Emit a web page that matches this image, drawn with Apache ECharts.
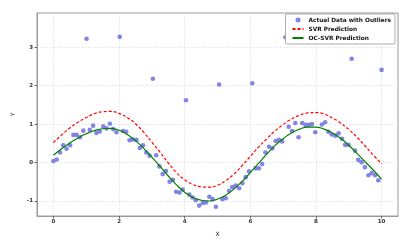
<!DOCTYPE html>
<html>
<head>
<meta charset="utf-8">
<script src="https://cdn.jsdelivr.net/npm/echarts@6/dist/echarts.min.js"></script>
<style>html,body{margin:0;padding:0;background:#fff}#c{width:414px;height:242px}</style>
</head>
<body>
<div id="c"></div>
<script>
var scatterX = [0,0.10,0.20,0.30,0.40,0.51,0.61,0.71,0.81,0.91,1.01,1.11,1.21,1.31,1.41,1.52,1.62,1.72,1.82,1.92,2.02,2.12,2.22,2.32,2.42,2.53,2.63,2.73,2.83,2.93,3.03,3.13,3.23,3.33,3.43,3.54,3.64,3.74,3.84,3.94,4.04,4.14,4.24,4.34,4.44,4.55,4.65,4.75,4.85,4.95,5.05,5.15,5.25,5.35,5.45,5.56,5.66,5.76,5.86,5.96,6.06,6.16,6.26,6.36,6.46,6.57,6.67,6.77,6.87,6.97,7.07,7.17,7.27,7.37,7.47,7.58,7.68,7.78,7.88,7.98,8.18,8.28,8.38,8.48,8.59,8.69,8.79,8.89,8.99,9.09,9.19,9.29,9.39,9.49,9.60,9.70,9.80,9.90,10.0];
var scatterY = [0.04,0.08,0.26,0.45,0.36,0.45,0.72,0.72,0.66,0.83,3.22,0.85,0.96,0.77,0.81,0.94,0.89,1.01,0.87,0.79,3.27,0.82,0.80,0.58,0.60,0.59,0.38,0.45,0.26,0.18,2.18,0.19,-0.10,-0.30,-0.22,-0.50,-0.45,-0.76,-0.78,-0.70,1.62,-0.83,-0.91,-0.98,-1.12,-1.05,-1.04,-0.89,-0.95,-1.15,2.03,-0.95,-0.93,-0.74,-0.64,-0.60,-0.67,-0.54,-0.38,-0.23,2.06,-0.15,-0.15,-0.04,0.26,0.41,0.37,0.56,0.59,0.55,3.26,0.93,0.82,1.03,0.66,1.03,0.98,0.98,1.00,0.79,0.99,1.05,0.80,0.73,0.70,0.76,0.62,0.46,0.46,2.70,0.31,0.07,0.01,-0.12,-0.33,-0.27,-0.33,-0.46,2.41];
var curveX = [0,0.25,0.5,0.75,1,1.25,1.5,1.75,2,2.25,2.5,2.75,3,3.25,3.5,3.75,4,4.25,4.5,4.75,5,5.25,5.5,5.75,6,6.25,6.5,6.75,7,7.25,7.5,7.75,8,8.25,8.5,8.75,9,9.25,9.5,9.75,10];
var svrY = [0.52,0.72,0.90,1.05,1.17,1.27,1.32,1.33,1.28,1.17,1.01,0.79,0.53,0.27,-0.01,-0.26,-0.45,-0.57,-0.63,-0.64,-0.59,-0.47,-0.30,-0.08,0.16,0.40,0.62,0.82,0.99,1.13,1.23,1.29,1.30,1.26,1.16,1.03,0.86,0.66,0.43,0.19,-0.03];
var ocY = [0.19,0.36,0.51,0.64,0.75,0.83,0.88,0.89,0.84,0.73,0.57,0.37,0.14,-0.10,-0.35,-0.58,-0.77,-0.91,-0.98,-1.00,-0.95,-0.85,-0.69,-0.49,-0.26,-0.02,0.22,0.44,0.62,0.77,0.87,0.92,0.92,0.87,0.77,0.63,0.45,0.24,0.02,-0.20,-0.43];
var xTicks = [0,2,4,6,8,10];
var yTicks = [-1,0,1,2,3];

function zip(a,b){var r=[];for(var i=0;i<a.length;i++)r.push([a[i],b[i]]);return r;}

var chart = echarts.init(document.getElementById('c'), null, {renderer:'canvas'});
var tickLabel = {fontSize:5.5, fontWeight:'bold', color:'#333', fontFamily:'DejaVu Sans'};
chart.setOption({
  animation:false,
  backgroundColor:'#fff',
  grid:{left:37, right:16, top:13, bottom:22, show:true, borderColor:'#999', borderWidth:1},
  legend:{
    right:19, top:14, orient:'vertical', itemWidth:11, itemHeight:5, itemGap:3,
    padding:[3,4,3,6], backgroundColor:'#fff', borderColor:'#999', borderWidth:0.8, borderRadius:1,
    textStyle:{fontSize:5.8, fontWeight:'bold', color:'#111', fontFamily:'DejaVu Sans'},
    data:[
      {name:'Actual Data with Outliers', icon:'circle'},
      {name:'SVR Prediction', itemStyle:{opacity:0}},
      {name:'OC-SVR Prediction', itemStyle:{opacity:0}}
    ]
  },
  xAxis:{
    type:'value', min:-0.5, max:10.5, name:'X', nameLocation:'middle', nameGap:15,
    nameTextStyle:{fontSize:6, color:'#222', fontFamily:'DejaVu Sans'},
    axisLine:{show:true, onZero:false, lineStyle:{color:'#999'}},
    axisTick:{show:true, length:2.5, customValues:xTicks, lineStyle:{color:'#666'}},
    axisLabel:Object.assign({customValues:xTicks, margin:3}, tickLabel),
    splitLine:{show:true, lineStyle:{color:'#ddd', type:[1.5,1.5], width:0.8}}
  },
  yAxis:{
    type:'value', min:-1.39, max:3.89, name:'Y', nameLocation:'middle', nameGap:18, nameRotate:90,
    nameTextStyle:{fontSize:6, color:'#222', fontFamily:'DejaVu Sans'},
    axisLine:{show:true, onZero:false, lineStyle:{color:'#999'}},
    axisTick:{show:true, length:2.5, customValues:yTicks, lineStyle:{color:'#666'}},
    axisLabel:Object.assign({customValues:yTicks, margin:4}, tickLabel),
    splitLine:{show:true, lineStyle:{color:'#ddd', type:[1.5,1.5], width:0.8}}
  },
  series:[
    {name:'Actual Data with Outliers', type:'scatter', data:zip(scatterX,scatterY), symbolSize:4.6,
     itemStyle:{color:'#6f6fe2', opacity:0.85}, z:3},
    {name:'SVR Prediction', type:'line', data:zip(curveX,svrY), smooth:true, symbol:'none',
     lineStyle:{color:'#ff0000', width:1.2, type:[3,2]}, itemStyle:{color:'#ff0000'}, z:4},
    {name:'OC-SVR Prediction', type:'line', data:zip(curveX,ocY), smooth:true, symbol:'none',
     lineStyle:{color:'#008000', width:1.2}, itemStyle:{color:'#008000'}, z:5}
  ]
});
</script>
</body>
</html>
